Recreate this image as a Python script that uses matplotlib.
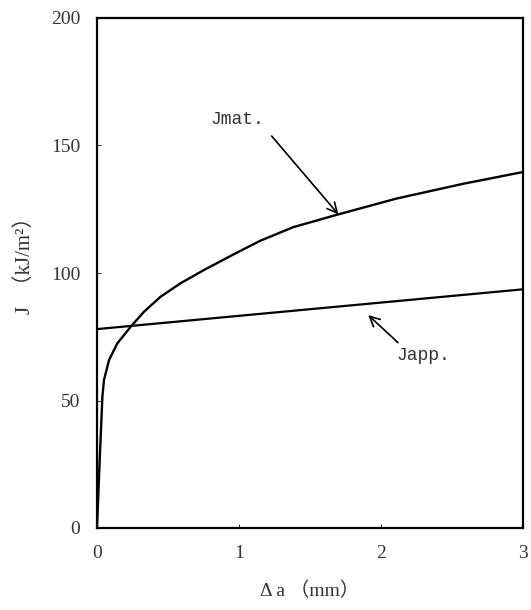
import matplotlib
matplotlib.use("Agg")
import matplotlib.pyplot as plt

# Data
jmat_da = [0.0, 0.02, 0.038, 0.049, 0.085, 0.143, 0.237, 0.331, 0.448, 0.589,
           0.754, 0.965, 1.148, 1.383, 1.70, 2.11, 2.58, 3.0]
jmat_j = [0.0, 28.0, 51.5, 58.0, 65.9, 72.4, 78.9, 84.8, 90.7, 96.0,
          101.2, 107.4, 112.6, 118.0, 123.0, 129.2, 135.0, 139.6]

japp_da = [0.0, 3.0]
japp_j = [78.0, 93.6]

xticks = [0, 1, 2, 3]
yticks = [0, 50, 100, 150, 200]

plt.rcParams['font.family'] = ['Liberation Serif', 'Noto Sans CJK JP', 'DejaVu Serif']

fig = plt.figure(figsize=(5.31, 6.10), dpi=100)
ax = fig.add_axes([97/531, 1-528/610, 426/531, 510/610])

ax.plot(jmat_da, jmat_j, color='black', lw=1.7, solid_joinstyle='round')
ax.plot(japp_da, japp_j, color='black', lw=1.6)

ax.set_xlim(0, 3)
ax.set_ylim(0, 200)
ax.set_xticks(xticks)
ax.set_yticks(yticks)
ax.tick_params(direction='in', length=3, width=0.6, labelsize=14,
               labelcolor='#333333', pad=12, top=False, right=False)
for s in ax.spines.values():
    s.set_linewidth(1.6)

ax.set_xlabel('Δ a （mm）', fontsize=14, color='#333333')
ax.xaxis.set_label_coords(0.5, -0.105)
ax.set_ylabel('J  （kJ/m²）', fontsize=15, color='#333333')
ax.yaxis.set_label_coords(-0.146, 0.525)

mono = ['Liberation Mono', 'DejaVu Sans Mono']
ax.text(0.99, 160, 'Jmat.', fontsize=13, color='#333333', ha='center', va='center', family=mono)
ax.annotate('', xy=(1.70, 123.0), xytext=(1.23, 153.7),
            arrowprops=dict(arrowstyle='->', color='black', lw=1.2,
                            shrinkA=0, shrinkB=0, mutation_scale=18))
ax.text(2.30, 67.5, 'Japp.', fontsize=13, color='#333333', ha='center', va='center', family=mono)
ax.annotate('', xy=(1.91, 83.5), xytext=(2.12, 72.7),
            arrowprops=dict(arrowstyle='->', color='black', lw=1.2,
                            shrinkA=0, shrinkB=0, mutation_scale=18))

fig.savefig('out.png', dpi=100)
